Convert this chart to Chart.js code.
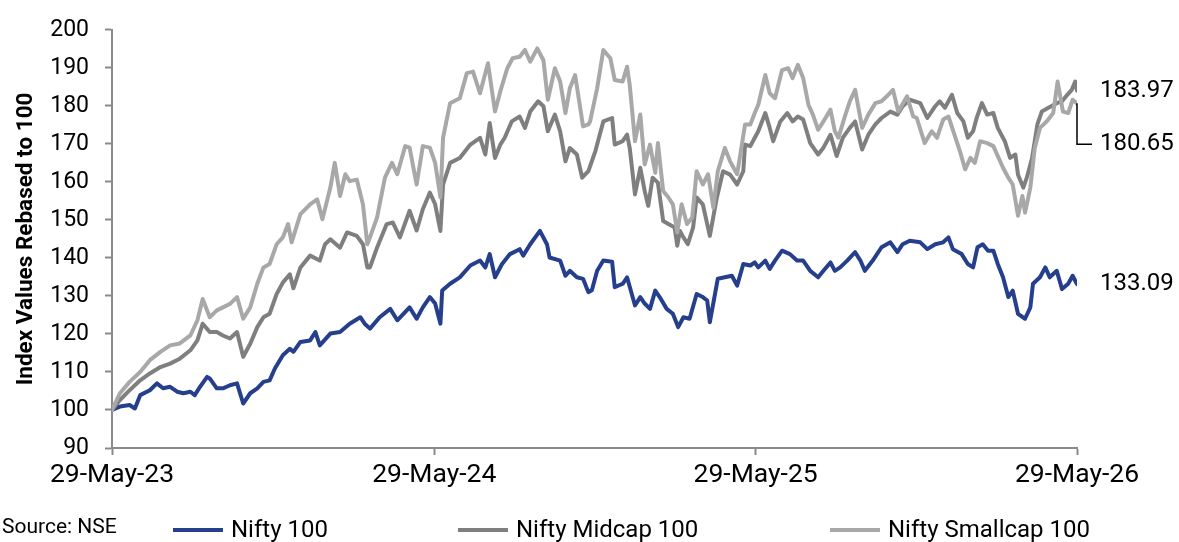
<!DOCTYPE html>
<html><head><meta charset="utf-8">
<script src="https://cdn.jsdelivr.net/npm/chart.js@4.4.1/dist/chart.umd.min.js"></script>
<style>html,body{margin:0;padding:0;background:#fff;}#wrap{width:1179px;height:542px;position:relative;}</style>
</head><body><div id="wrap"><canvas id="c"></canvas></div>
<script>
// x values are days since 29-May-23
const tickDays = [0, 366, 731, 1096];
const tickLabels = ['29-May-23', '29-May-24', '29-May-25', '29-May-26'];
const seriesNames = ['Nifty 100', 'Nifty Midcap 100', 'Nifty Smallcap 100'];
const sourceText = 'Source: NSE';
const yAxisTitle = 'Index Values Rebased to 100';

const n100Days = [
 0,9,20,26,32,43,51,58,66,74,
 81,89,94,100,108,111,119,126,134,142,
 149,157,165,172,179,185,194,202,206,214,
 225,231,236,248,259,270,282,287,293,304,
 316,324,338,346,353,361,367,373,375,384,
 395,407,418,424,429,435,443,452,463,467,
 475,486,494,497,509,515,520,528,535,541,
 545,551,558,568,571,580,585,594,600,605,
 611,617,622,630,637,643,649,656,664,671,
 676,679,688,696,704,710,717,725,730,734,
 742,747,753,761,770,778,785,793,802,808,
 816,821,827,835,844,850,855,864,874,884,
 892,898,906,918,926,935,944,950,955,965,
 972,978,983,989,995,1001,1006,1012,1018,1023,
 1029,1037,1043,1046,1054,1060,1065,1073,1079,1086,
 1091,1096];
const n100Vals = [
 100,100.9,101.3,100.4,103.9,105.2,107,105.7,106.1,104.8,
 104.4,104.8,103.9,106.1,108.7,108.3,105.7,105.7,106.5,107,
 101.7,104.4,105.7,107.4,107.8,110.9,114.4,116.1,115.3,117.9,
 118.3,120.5,117,120.1,120.5,122.7,124.4,122.7,121.4,124.4,
 126.6,123.6,127,124,127,129.7,128,122.7,131.4,133.2,
 134.9,138,139.3,137.5,141,134.9,138.4,141,142.3,140.6,
 143.6,147.1,143.6,140.1,139.3,135.3,136.6,134.9,134.5,131,
 131.5,136.6,139.3,139,132.3,133.2,134.9,127.5,129.7,128,
 126.6,131.4,129.7,126.6,125.3,121.8,124.4,124,130.5,129.7,
 128.8,123.1,134.5,134.9,135.3,132.7,138.4,138,138.8,137.5,
 139.3,137.1,139.3,141.9,141,139.3,139.3,136.6,134.9,136.6,
 138.8,136.6,137.5,139.3,141.5,139.3,136.6,139.3,142.8,144.1,
 141.5,143.6,144.5,144.1,142.3,143.6,144.1,145.4,142.3,141,
 138.4,137.5,142.8,143.6,141.9,141.9,138.4,134.9,129.7,131.4,
 125.3,124,127,133.2,134.9,137.5,134.9,136.6,131.8,133.2,
 135.3,133.09];

const midDays = [
 0,9,20,32,43,55,66,77,89,97,
 103,111,119,126,134,142,149,157,165,172,
 179,187,194,202,206,214,225,236,242,248,
 259,267,278,285,290,293,301,312,319,327,
 338,346,353,361,367,373,376,384,395,407,
 418,424,429,435,441,446,454,463,469,475,
 484,490,495,503,509,515,520,528,534,541,
 549,558,568,571,580,585,588,594,600,605,
 609,614,620,626,632,639,642,645,649,654,
 660,664,671,679,687,694,702,710,717,719,
 725,730,734,742,747,751,759,767,773,779,
 785,793,802,808,816,823,830,838,844,
 852,859,867,874,884,892,898,906,918,926,
 935,940,946,954,960,967,972,978,982,988,
 994,1001,1006,1014,1020,1026,1029,1035,1039,1045,
 1051,1056,1063,1073,1079,1085,1090,1094,1096];
const midVals = [
 100,102.6,105.2,107.8,109.6,111.3,112.2,113.5,115.7,118.3,
 122.7,120.5,120.5,119.6,118.8,120.5,114,117.4,121.8,124.4,
 125.3,130.5,133.5,135.7,132,137.5,140.6,139.3,143.6,144.9,
 142.7,146.7,145.8,143.6,137.5,137.5,142.7,148.9,149.3,145.4,
 152.4,147.2,152.8,157.2,154.1,147.1,159.3,165,166.3,169.8,
 171.6,167.2,175.5,166.3,169.8,171.6,175.9,177.2,174.2,178.5,
 181.2,179.9,173.3,177.7,173.3,165.4,168.9,167.2,161.1,162.8,
 168.1,175.9,176.8,169.8,170.7,172.4,168.9,156.7,163.7,157.6,
 153.7,161.1,159.8,149.7,148.9,148,143.2,147.1,145.4,143.6,
 148,155.9,154.1,145.8,155.9,162.8,161.9,159.3,162.8,169.8,
 169.4,171.6,173.3,178.1,174.2,170.7,175.9,178.1,175.9,177.2,
 176.4,170.2,167.2,169,172.4,166.8,171.6,174.2,175.9,
 168.5,172.4,175.1,176.8,178.5,177.7,179.9,181.6,180.7,176.8,
 179.9,181.2,179.5,182.9,178.1,175.9,171.6,173.3,176.8,180.7,
 177.7,178.1,174.2,170.7,166.3,167.2,161.9,158.5,161.1,166.3,
 175.1,178.5,179.4,180.7,181.2,182.9,184.2,186.4,183.97];

const smallDays = [
 0,9,20,32,43,55,66,77,89,97,
 103,111,119,126,134,142,149,157,165,172,
 179,187,194,200,204,214,225,233,239,248,
 253,259,265,270,278,285,290,293,301,310,
 318,324,333,338,346,353,361,367,373,376,
 384,395,403,410,418,427,435,441,449,455,
 463,469,475,483,490,495,503,509,515,520,
 526,535,541,543,551,558,566,571,580,585,
 588,594,600,605,611,617,620,626,632,637,
 642,647,653,659,664,671,677,683,688,696,
 702,710,719,725,730,734,742,747,753,761,
 768,773,779,785,791,796,802,808,816,821,
 825,833,838,844,852,859,867,874,880,887,
 893,903,910,914,923,931,937,944,950,955,
 963,969,975,980,986,994,1001,1006,1012,1018,
 1023,1029,1034,1037,1043,1048,1054,1062,1069,1074,
 1080,1086,1091,1096];
const smallVals = [
 100,104.4,107.4,110,113.1,115.3,117,117.5,119.6,123.6,
 129.2,124.4,126.2,127,127.9,129.7,124,127,133.2,137.5,
 138.4,143.6,145.4,148.9,144.1,151.5,154.1,155.4,150.2,158.5,
 165,156.3,162,160.2,160.6,154.1,143.6,145.4,150.6,161.1,
 165,162,169.4,169,159.3,169.4,169,165,155.9,171.6,
 180.7,182,188.6,189,183.3,191.2,178.5,183.8,189.9,192.5,
 192.9,194.7,191.6,195.1,192,181.6,189.9,186.4,178.1,184.6,
 188.1,174.6,175.1,175.9,184.6,194.7,192.5,186.8,186.4,190.3,
 185.5,170.7,177.7,164.6,169.8,162.4,170.2,157.6,155.9,154.1,
 146.7,154.1,148.9,150.6,162.8,159.3,162,153.2,162.8,168.9,
 165.4,162,175.1,175.1,178.1,180.3,188.1,183.3,182,189.4,
 189.9,187.3,190.8,187.3,180.3,177.7,173.7,175.9,179,173.3,
 171.6,177.7,181.2,184.2,174.2,177.7,180.7,181.2,182.5,184.2,
 178.5,182.5,177.2,176.8,170.2,173.3,171.6,176.4,177.2,173.7,
 168.1,163.3,166.3,165,170.7,170.2,169.4,166.8,163.7,161.1,
 159.3,151.1,156.3,151.9,158.5,168.9,174.2,176,178.1,186.4,
 178.5,178.1,181.6,180.65];

const FONT = 'Roboto';
const axisColor = '#8a8a8a';
const colors = ['#263f8c', '#7f7f7f', '#a8a8a8'];
const endLabelOffsets = [0, 0, 41];

function zip(d, v) { const out = []; const n = Math.min(d.length, v.length); for (let i = 0; i < n; i++) out.push({x: d[i], y: v[i]}); return out; }

const endLabels = {
  id: 'endLabels',
  afterDatasetsDraw(chart) {
    const {ctx, chartArea, scales} = chart;
    const y = scales.y;
    ctx.save();
    ctx.font = '24px ' + FONT;
    ctx.fillStyle = '#000';
    ctx.textBaseline = 'middle';
    ctx.textAlign = 'left';
    chart.data.datasets.forEach((ds, i) => {
      const last = ds.data[ds.data.length - 1];
      const yy = y.getPixelForValue(last.y);
      const off = endLabelOffsets[i];
      if (off) {
        ctx.strokeStyle = '#000';
        ctx.lineWidth = 1.5;
        ctx.beginPath();
        ctx.moveTo(chartArea.right, yy);
        ctx.lineTo(chartArea.right, yy + off);
        ctx.lineTo(chartArea.right + 15, yy + off);
        ctx.stroke();
      }
      ctx.fillText(last.y.toFixed(2), chartArea.right + 23, yy + off);
    });
    ctx.restore();
  }
};

const bottomLegend = {
  id: 'bottomLegend',
  afterDraw(chart) {
    const {ctx} = chart;
    ctx.save();
    ctx.textBaseline = 'middle';
    ctx.textAlign = 'left';
    ctx.fillStyle = '#000';
    ctx.font = '21px ' + FONT;
    ctx.fillText(sourceText, 2, 528);
    const xs = [173, 458, 830];
    ctx.font = '24px ' + FONT;
    chart.data.datasets.forEach((ds, i) => {
      ctx.strokeStyle = ds.borderColor;
      ctx.lineWidth = 4;
      ctx.beginPath();
      ctx.moveTo(xs[i], 530);
      ctx.lineTo(xs[i] + 50, 530);
      ctx.stroke();
      ctx.fillStyle = '#000';
      ctx.fillText(ds.label, xs[i] + 58, 531);
    });
    ctx.restore();
  }
};

const gridCfg = {display: true, drawOnChartArea: false, drawTicks: true, tickLength: 7, tickColor: axisColor, tickWidth: 2};
const borderCfg = {display: true, color: axisColor, width: 2};

new Chart(document.getElementById('c'), {
  type: 'line',
  data: {
    datasets: [
      {label: seriesNames[0], data: zip(n100Days, n100Vals), borderColor: colors[0], backgroundColor: colors[0], order: 3},
      {label: seriesNames[1], data: zip(midDays, midVals), borderColor: colors[1], backgroundColor: colors[1], order: 2},
      {label: seriesNames[2], data: zip(smallDays, smallVals), borderColor: colors[2], backgroundColor: colors[2], order: 1}
    ]
  },
  options: {
    responsive: true,
    maintainAspectRatio: false,
    animation: false,
    parsing: false,
    layout: {padding: {left: 0, right: 102, top: 28, bottom: 0}},
    elements: {
      line: {borderWidth: 4, tension: 0, fill: false, borderJoinStyle: 'round', borderCapStyle: 'round'},
      point: {radius: 0, hoverRadius: 0}
    },
    plugins: {legend: {display: false}, tooltip: {enabled: false}, title: {display: false}},
    scales: {
      x: {
        type: 'linear', min: tickDays[0], max: tickDays[tickDays.length - 1],
        afterBuildTicks: s => { s.ticks = tickDays.map(v => ({value: v})); },
        ticks: {callback: (v, i) => tickLabels[i], font: {family: FONT, size: 26.5}, color: '#000', maxRotation: 0, autoSkip: false, padding: 4},
        grid: gridCfg, border: borderCfg,
        afterFit: s => { s.height = 94; }
      },
      y: {
        min: 90, max: 200,
        ticks: {stepSize: 10, font: {family: FONT, size: 23}, color: '#000', padding: 16},
        grid: gridCfg, border: borderCfg,
        title: {display: true, text: yAxisTitle, font: {family: FONT, size: 22.5, weight: 'bold'}, color: '#000', padding: {top: 13, bottom: 0}},
        afterFit: s => { s.width = 112; }
      }
    }
  },
  plugins: [endLabels, bottomLegend]
});
</script></body></html>
